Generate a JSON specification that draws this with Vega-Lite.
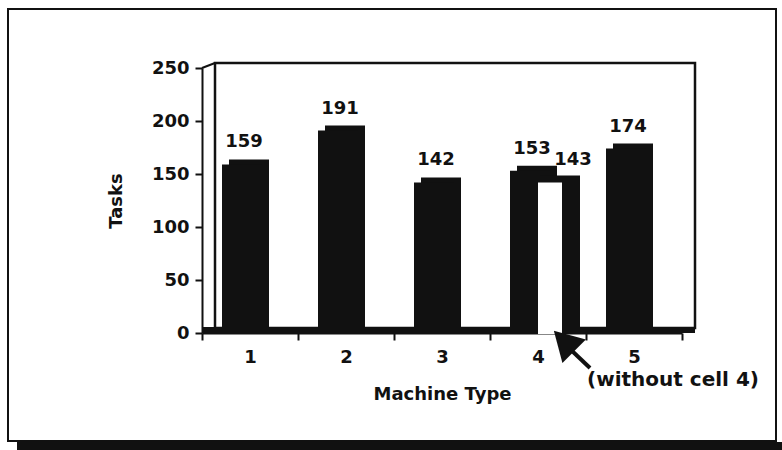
{
  "$schema": "https://vega.github.io/schema/vega-lite/v6.json",
  "autosize": {"type": "none"},
  "width": 480,
  "height": 265,
  "padding": {"left": 202, "top": 68, "right": 100, "bottom": 117},
  "background": "white",
  "config": {
    "view": {"stroke": null},
    "font": "DejaVu Sans",
    "axis": {"labelFont": "DejaVu Sans", "titleFont": "DejaVu Sans", "labelFontWeight": "bold", "titleFontWeight": "bold", "labelColor": "#111", "titleColor": "#111", "labelFontSize": 18, "titleFontSize": 18, "domainColor": "#111", "tickColor": "#111", "domainWidth": 2, "tickWidth": 2, "tickSize": 7, "grid": false, "zindex": 1}
  },
  "resolve": {"scale": {"x": "independent"}, "axis": {"x": "independent"}},
  "layer": [
    {
      "data": {"values": [{"part": "frame"}]},
      "mark": {"type": "rect", "fill": "transparent", "stroke": "#111", "strokeWidth": 2, "xOffset": -194, "x2Offset": 94, "yOffset": -59, "y2Offset": 108},
      "encoding": {
        "x": {"datum": 0, "type": "quantitative", "scale": {"domain": [0, 1]}, "axis": null}, "x2": {"datum": 1},
        "y": {"datum": 250, "type": "quantitative", "scale": {"domain": [0, 250], "nice": false}}, "y2": {"datum": 0}}
    },
    {
      "data": {"values": [{"part": "shadow"}]},
      "mark": {"type": "rect", "fill": "#111", "xOffset": -185, "x2Offset": 100, "yOffset": 109, "y2Offset": 117},
      "encoding": {
        "x": {"datum": 0, "type": "quantitative", "scale": {"domain": [0, 1]}, "axis": null}, "x2": {"datum": 1},
        "y": {"datum": 0, "type": "quantitative"}, "y2": {"datum": 0}}
    },
    {
      "data": {"values": [{"part": "back wall"}]},
      "mark": {"type": "rect", "fill": "white", "stroke": "#111", "strokeWidth": 2.5, "xOffset": 13, "x2Offset": 13, "yOffset": -5, "y2Offset": -5},
      "encoding": {
        "x": {"datum": 0, "type": "quantitative", "scale": {"domain": [0, 1]}, "axis": null}, "x2": {"datum": 1},
        "y": {"datum": 250, "type": "quantitative"}, "y2": {"datum": 0}}
    },
    {
      "data": {"values": [{"part": "side wall top"}]},
      "mark": {"type": "rule", "color": "#111", "strokeWidth": 2, "x2Offset": 13, "y2Offset": -5},
      "encoding": {
        "x": {"datum": 0, "type": "quantitative", "scale": {"domain": [0, 1]}, "axis": null}, "x2": {"datum": 0},
        "y": {"datum": 250, "type": "quantitative"}, "y2": {"datum": 250}}
    },
    {
      "data": {"values": [{"part": "floor"}]},
      "mark": {"type": "rect", "fill": "#111", "xOffset": 0, "x2Offset": 13, "yOffset": 0, "y2Offset": -6},
      "encoding": {
        "x": {"datum": 0, "type": "quantitative", "scale": {"domain": [0, 1]}, "axis": null}, "x2": {"datum": 1},
        "y": {"datum": 0, "type": "quantitative"}, "y2": {"datum": 0}}
    },
    {
      "layer": [
        {
          "data": {"values": [
            {"machine": "1", "tasks": 159, "series": "all"},
            {"machine": "2", "tasks": 191, "series": "all"},
            {"machine": "3", "tasks": 142, "series": "all"},
            {"machine": "4", "tasks": 153, "series": "all"},
            {"machine": "4", "tasks": 143, "series": "without cell 4"},
            {"machine": "5", "tasks": 174, "series": "all"}
          ]},
          "encoding": {
            "x": {"field": "machine", "type": "nominal", "scale": {"type": "band", "paddingInner": 0, "paddingOuter": 0, "domain": ["1", "2", "3", "4", "5"]},
              "axis": {"title": "Machine Type", "labelAngle": 0, "tickBand": "extent", "labelPadding": 8, "titlePadding": 19}},
            "y": {"field": "tasks", "type": "quantitative",
              "axis": {"title": "Tasks", "values": [0, 50, 100, 150, 200, 250], "labelPadding": 6, "titlePadding": 26}}
          },
          "layer": [
            {
              "transform": [{"filter": "datum.series === 'all'"}],
              "mark": {"type": "bar", "color": "#111", "width": 40, "xOffset": -1, "yOffset": -5, "y2Offset": -5}
            },
            {
              "transform": [{"filter": "datum.series === 'all'"}],
              "mark": {"type": "bar", "color": "#111", "width": 40, "xOffset": -8}
            },
            {
              "transform": [{"filter": "datum.series === 'without cell 4'"}],
              "mark": {"type": "bar", "color": "#111", "width": 40, "xOffset": 22, "yOffset": -6, "y2Offset": -5}
            },
            {
              "transform": [{"filter": "datum.series === 'without cell 4'"}],
              "mark": {"type": "bar", "color": "white", "width": 24, "xOffset": 12, "yOffset": 1, "y2Offset": 4}
            },
            {
              "transform": [{"filter": "datum.series === 'all'"}],
              "mark": {"type": "text", "font": "DejaVu Sans", "fontWeight": "bold", "fontSize": 18, "color": "#111", "baseline": "middle", "xOffset": -6, "yOffset": -22},
              "encoding": {"text": {"field": "tasks", "type": "quantitative"}}
            },
            {
              "transform": [{"filter": "datum.series === 'without cell 4'"}],
              "mark": {"type": "text", "font": "DejaVu Sans", "fontWeight": "bold", "fontSize": 18, "color": "#111", "baseline": "middle", "xOffset": 35, "yOffset": -21},
              "encoding": {"text": {"field": "tasks", "type": "quantitative"}}
            }
          ]
        },
        {
          "data": {"values": [{"machine": "4", "label": "(without cell 4)"}]},
          "mark": {"type": "point", "shape": "triangle-up", "filled": true, "color": "#111", "opacity": 1, "size": 1100, "angle": 315, "xOffset": 26, "yOffset": 8},
          "encoding": {"x": {"field": "machine", "type": "nominal"}, "y": {"datum": 0, "type": "quantitative"}}
        },
        {
          "data": {"values": [{"machine": "4", "label": "(without cell 4)"}]},
          "mark": {"type": "rule", "color": "#111", "strokeWidth": 4, "xOffset": 32, "x2Offset": 52, "yOffset": 16, "y2Offset": 35},
          "encoding": {"x": {"field": "machine", "type": "nominal"}, "x2": {"field": "machine"}, "y": {"datum": 0, "type": "quantitative"}, "y2": {"datum": 0}}
        },
        {
          "data": {"values": [{"machine": "5", "label": "(without cell 4)"}]},
          "mark": {"type": "text", "font": "DejaVu Sans", "fontWeight": "bold", "fontSize": 20, "color": "#111", "baseline": "middle", "align": "center", "xOffset": 39, "yOffset": 47},
          "encoding": {"x": {"field": "machine", "type": "nominal"}, "y": {"datum": 0, "type": "quantitative"}, "text": {"field": "label"}}
        }
      ]
    }
  ]
}
